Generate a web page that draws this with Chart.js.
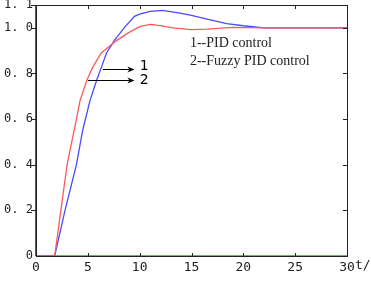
<!DOCTYPE html>
<html>
<head>
<meta charset="utf-8">
<script src="https://cdn.jsdelivr.net/npm/chart.js@4.4.1/dist/chart.umd.min.js"></script>
<style>
  html, body { margin: 0; padding: 0; background: #fff; }
  #wrap { width: 371px; height: 286px; }
</style>
</head>
<body>
<div id="wrap"><canvas id="myChart"></canvas></div>
<script>
// step response
const tPid   = [0, 1.8, 2.8, 3.9, 4.5, 5.2, 5.85, 6.33, 6.8, 7.6, 8.6, 9.5, 10.0, 11.0, 12.2, 13.9, 15.0, 16.5, 18.4, 20.0, 22, 30];
const yPid   = [0, 0, 0.2, 0.4, 0.55, 0.68, 0.77, 0.83, 0.89, 0.947, 1.005, 1.05, 1.06, 1.072, 1.076, 1.064, 1.055, 1.038, 1.018, 1.009, 1.0, 1.0];
const tFuzzy = [0, 1.8, 2.4, 3.0, 3.9, 4.24, 4.9, 5.5, 6.3, 7.1, 7.8, 8.9, 10.0, 11.0, 12.0, 13.2, 15.0, 16.5, 19.0, 22, 30];
const yFuzzy = [0, 0, 0.2, 0.4, 0.6, 0.68, 0.77, 0.83, 0.89, 0.92, 0.945, 0.978, 1.005, 1.015, 1.01, 1.0, 0.992, 0.994, 1.002, 1.0, 1.0];
const tZero  = [0, 30];
const yZero  = [0, 0];

const xTicks = [0, 5, 10, 15, 20, 25, 30];
const yTicks = [0, 0.2, 0.4, 0.6, 0.8, 1.0, 1.1];
const legendLines = ['1--PID control', '2--Fuzzy PID control'];

const pts = (xs, ys) => xs.map((x, i) => ({ x: x, y: ys[i] }));

// box, ticks, arrows and the text notes
const extras = {
  id: 'extras',
  afterDraw(chart) {
    const c = chart.ctx, a = chart.chartArea;
    const sx = chart.scales.x, sy = chart.scales.y;
    c.save();
    c.strokeStyle = '#222';
    c.lineWidth = 1;
    c.strokeRect(a.left + 0.5, a.top + 0.5, a.right - a.left, a.bottom - a.top);
    c.lineWidth = 1.5;
    c.beginPath(); c.moveTo(a.left, a.top); c.lineTo(a.left, a.bottom); c.stroke();
    c.lineWidth = 1;
    c.beginPath();
    xTicks.forEach(v => {
      const px = Math.round(sx.getPixelForValue(v)) + 0.5;
      if (v > 0 && v < 30) {
        c.moveTo(px, a.top); c.lineTo(px, a.top + 4);
        c.moveTo(px, a.bottom); c.lineTo(px, a.bottom - 3);
      }
    });
    yTicks.forEach(v => {
      const py = Math.round(sy.getPixelForValue(v)) + 0.5;
      if (v > 0) {
        c.moveTo(a.left - 5, py); c.lineTo(a.left, py);
        if (v < 1.1) { c.moveTo(a.right, py); c.lineTo(a.right - 4, py); }
      }
    });
    c.stroke();

    // arrows
    const arrow = (t0, t1, v) => {
      const x0 = sx.getPixelForValue(t0), x1 = sx.getPixelForValue(t1);
      const y = Math.round(sy.getPixelForValue(v)) + 0.5;
      c.strokeStyle = '#000'; c.fillStyle = '#000'; c.lineWidth = 1;
      c.beginPath(); c.moveTo(x0, y); c.lineTo(x1, y); c.stroke();
      c.beginPath(); c.moveTo(x1 + 1, y); c.lineTo(x1 - 6, y - 3); c.lineTo(x1 - 4, y); c.lineTo(x1 - 6, y + 3); c.closePath(); c.fill();
    };
    arrow(6.46, 9.4, 0.82);
    arrow(5.0, 9.4, 0.772);
    c.font = '14px "DejaVu Sans"';
    c.textBaseline = 'middle'; c.textAlign = 'left';
    c.fillText('1', sx.getPixelForValue(10.0), sy.getPixelForValue(0.83));
    c.fillText('2', sx.getPixelForValue(10.0), sy.getPixelForValue(0.768));

    c.fillStyle = '#222';
    c.font = '14px "Liberation Serif"';
    c.fillText(legendLines[0], sx.getPixelForValue(14.85), sy.getPixelForValue(0.93));
    c.fillText(legendLines[1], sx.getPixelForValue(14.85), sy.getPixelForValue(0.855));

    // axis unit, cut by the edge as in the source
    c.font = '13px "DejaVu Sans Mono"';
    c.fillText('t/s', a.right + 8, a.bottom + 10);
    c.restore();
  }
};

new Chart(document.getElementById('myChart'), {
  type: 'line',
  data: {
    datasets: [
      { label: 'Fuzzy PID', data: pts(tFuzzy, yFuzzy), borderColor: '#ff5a5a', borderWidth: 1.3, pointRadius: 0, tension: 0 },
      { label: 'PID', data: pts(tPid, yPid), borderColor: '#4a4aff', borderWidth: 1.3, pointRadius: 0, tension: 0 },
      { label: 'zero', data: pts(tZero, yZero), borderColor: '#36a036', borderWidth: 1.5, pointRadius: 0 }
    ]
  },
  options: {
    responsive: true,
    maintainAspectRatio: false,
    animation: false,
    layout: { padding: { top: 5, right: 24, left: 0, bottom: 0 } },
    plugins: { legend: { display: false }, tooltip: { enabled: false } },
    scales: {
      x: {
        type: 'linear', min: 0, max: 30,
        afterBuildTicks: s => { s.ticks = xTicks.map(v => ({ value: v })); },
        afterFit: s => { s.height = 30; s.paddingLeft = 0; s.paddingRight = 0; },
        grid: { display: false, drawTicks: false },
        border: { display: false },
        ticks: { color: '#222', font: { family: 'DejaVu Sans Mono', size: 13 }, padding: 4, maxRotation: 0 }
      },
      y: {
        min: 0, max: 1.1,
        afterBuildTicks: s => { s.ticks = yTicks.map(v => ({ value: v })); },
        afterFit: s => { s.width = 36; s.paddingTop = 0; s.paddingBottom = 0; },
        grid: { display: false, drawTicks: false },
        border: { display: false },
        ticks: {
          color: '#222', font: { family: 'DejaVu Sans Mono', size: 12 }, padding: 3,
          callback: v => v === 0 ? '0' : v.toFixed(1).replace('.', '. ')
        }
      }
    }
  },
  plugins: [extras]
});
</script>
</body>
</html>
